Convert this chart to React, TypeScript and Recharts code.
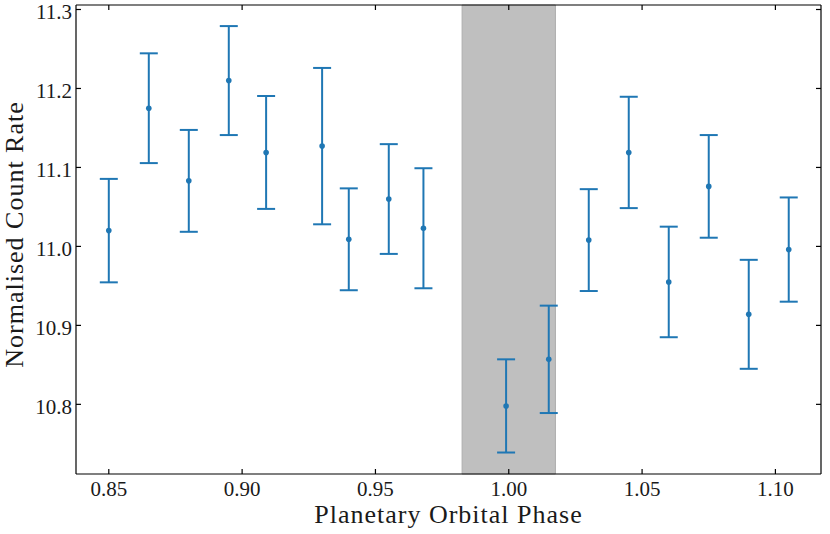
import React from 'react';
import { ScatterChart, Scatter, XAxis, YAxis, ErrorBar, ReferenceArea } from 'recharts';

const phase = [0.85, 0.865, 0.88, 0.895, 0.909, 0.93, 0.94, 0.955, 0.968, 0.999, 1.015, 1.03, 1.045, 1.06, 1.075, 1.09, 1.105];
const rate = [11.02, 11.175, 11.083, 11.21, 11.119, 11.127, 11.009, 11.06, 11.023, 10.798, 10.857, 11.008, 11.119, 10.955, 11.076, 10.914, 10.996];
const rateErr = [0.0655, 0.0695, 0.0645, 0.069, 0.0715, 0.099, 0.0645, 0.0695, 0.076, 0.059, 0.068, 0.0645, 0.0705, 0.07, 0.065, 0.069, 0.066];

const xTicks = [0.85, 0.9, 0.95, 1.0, 1.05, 1.1];
const yTicks = [10.8, 10.9, 11.0, 11.1, 11.2, 11.3];
const transitStart = 0.9825;
const transitEnd = 1.0175;

const data = phase.map((p, i) => ({ phase: p, rate: rate[i], err: rateErr[i] }));

const FONT = 'Liberation Serif';
const BLUE = '#1f77b4';
const TEXT = '#1a1a1a';
const textStyle = { fontFamily: FONT };

const BottomTick = (props: any) => {
  const { x, y, payload } = props;
  return (
    <g>
      <line x1={x} y1={y} x2={x} y2={y - 5} stroke="#000" strokeWidth={1.2} />
      <text x={x} y={y + 22} textAnchor="middle" style={textStyle} fontSize={21} fill={TEXT}>
        {payload.value.toFixed(2)}
      </text>
    </g>
  );
};

const LeftTick = (props: any) => {
  const { x, y, payload } = props;
  return (
    <g>
      <line x1={x} y1={y} x2={x + 5} y2={y} stroke="#000" strokeWidth={1.2} />
      <text x={x - 4} y={y + 9.5} textAnchor="end" style={textStyle} fontSize={21} fill={TEXT}>
        {payload.value.toFixed(1)}
      </text>
    </g>
  );
};

const TopTick = (props: any) => {
  const { x, y } = props;
  return <line x1={x} y1={y} x2={x} y2={y + 5} stroke="#000" strokeWidth={1.2} />;
};

const RightTick = (props: any) => {
  const { x, y } = props;
  return <line x1={x} y1={y} x2={x - 5} y2={y} stroke="#000" strokeWidth={1.2} />;
};

const Dot = (props: any) => {
  const { cx, cy } = props;
  return <circle cx={cx} cy={cy} r={2.8} fill={BLUE} />;
};

const NoDot = () => <g />;

export default function App() {
  const xDomain: [number, number] = [0.8377, 1.1171];
  const yDomain: [number, number] = [10.7118, 11.3057];
  return (
    <div style={{ position: 'absolute', left: 0, top: 0 }}>
      <ScatterChart width={830} height={534} margin={{ top: 4, right: 8, bottom: 0, left: 0 }}>
        <XAxis
          xAxisId="bottom"
          dataKey="phase"
          type="number"
          domain={xDomain}
          ticks={xTicks}
          allowDataOverflow
          height={60}
          tickSize={0}
          tickMargin={0}
          tickLine={false}
          tick={<BottomTick />}
          axisLine={{ stroke: '#000', strokeWidth: 1.2 }}
          label={{
            content: (p: any) => {
              const vb = p.viewBox;
              return (
                <text x={vb.x + vb.width / 2} y={vb.y + 49} textAnchor="middle" style={textStyle} fontSize={26} letterSpacing={1} fill={TEXT}>
                  Planetary Orbital Phase
                </text>
              );
            },
          }}
        />
        <XAxis
          xAxisId="top"
          dataKey="phase"
          orientation="top"
          type="number"
          domain={xDomain}
          ticks={xTicks}
          allowDataOverflow
          height={1}
          tickSize={0}
          tickMargin={0}
          tickLine={false}
          tick={<TopTick />}
          axisLine={{ stroke: '#000', strokeWidth: 1.2 }}
        />
        <YAxis
          yAxisId="left"
          dataKey="rate"
          type="number"
          domain={yDomain}
          ticks={yTicks}
          allowDataOverflow
          width={76}
          tickSize={0}
          tickMargin={0}
          tickLine={false}
          tick={<LeftTick />}
          axisLine={{ stroke: '#000', strokeWidth: 1.2 }}
          label={{
            content: (p: any) => {
              const vb = p.viewBox;
              const cx = 23;
              const cy = vb.y + vb.height / 2 - 5;
              return (
                <text x={cx} y={cy} transform={`rotate(-90 ${cx} ${cy})`} textAnchor="middle" style={textStyle} fontSize={26} letterSpacing={1} fill={TEXT}>
                  Normalised Count Rate
                </text>
              );
            },
          }}
        />
        <YAxis
          yAxisId="right"
          dataKey="rate"
          orientation="right"
          type="number"
          domain={yDomain}
          ticks={yTicks}
          allowDataOverflow
          width={1}
          tickSize={0}
          tickMargin={0}
          tickLine={false}
          tick={<RightTick />}
          axisLine={{ stroke: '#000', strokeWidth: 1.2 }}
        />
        <ReferenceArea
          xAxisId="bottom"
          yAxisId="left"
          x1={transitStart}
          x2={transitEnd}
          fill="#bfbfbf"
          fillOpacity={1}
          stroke="#adadad"
          strokeWidth={1}
        />
        <Scatter
          xAxisId="top"
          yAxisId="right"
          data={data}
          dataKey="rate"
          shape={<NoDot />}
          isAnimationActive={false}
        />
        <Scatter
          xAxisId="bottom"
          yAxisId="left"
          data={data}
          dataKey="rate"
          fill={BLUE}
          shape={<Dot />}
          isAnimationActive={false}
        >
          <ErrorBar dataKey="err" direction="y" width={9} stroke={BLUE} strokeWidth={2} isAnimationActive={false} />
        </Scatter>
      </ScatterChart>
    </div>
  );
}
